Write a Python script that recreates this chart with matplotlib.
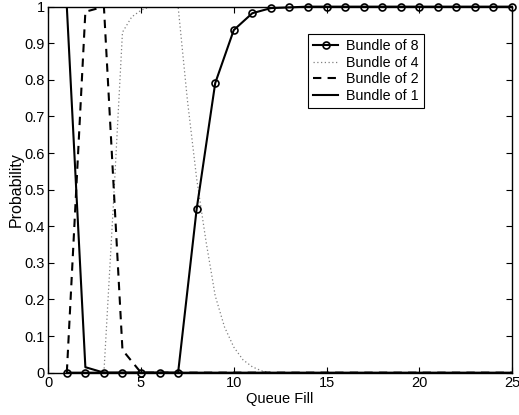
import matplotlib
matplotlib.use("Agg")
import matplotlib.pyplot as plt

plt.rcParams['font.family'] = ['Liberation Sans', 'DejaVu Sans']

# Bundle of 8 (integer queue fill)
x8 = list(range(1, 26))
y8 = [0, 0, 0, 0, 0, 0, 0, 0.447, 0.791, 0.936, 0.982, 0.996, 0.998] + [1.0] * 12

# Bundle of 4 (read at half steps)
x4 = [1, 2, 3, 3.5, 4, 4.5, 5, 5.5, 6, 6.5, 7, 7.5, 8, 8.5, 9, 9.5, 10, 10.5,
      11, 11.5, 12, 13, 15, 20, 25]
y4 = [0, 0, 0, 0.45, 0.93, 0.972, 0.99, 1.0, 1.0, 1.0, 1.0, 0.745, 0.53, 0.36,
      0.21, 0.125, 0.07, 0.035, 0.016, 0.005, 0.0, 0.0, 0.0, 0.0, 0.0]

# Bundle of 2
x2 = list(range(1, 26))
y2 = [0, 0.986, 1.0, 0.062] + [0.0] * 21

# Bundle of 1
x1 = list(range(1, 26))
y1 = [1.0, 0.015] + [0.0] * 23

xticks = [0, 5, 10, 15, 20, 25]
yticks = [0, 0.1, 0.2, 0.3, 0.4, 0.5, 0.6, 0.7, 0.8, 0.9, 1]
yticklabels = ['0', '0.1', '0.2', '0.3', '0.4', '0.5', '0.6', '0.7', '0.8', '0.9', '1']

fig = plt.figure(figsize=(5.19, 4.15), dpi=100)
ax = fig.add_axes([0.093, 0.102, 0.8935, 0.882])

ax.plot(x8, y8, color='black', lw=1.5, marker='o', ms=5, mfc='none', mew=1.2,
        label='Bundle of 8', clip_on=False, zorder=4)
ax.plot(x4, y4, color='#808080', lw=0.9, linestyle=(0, (1, 2)), label='Bundle of 4')
ax.plot(x2, y2, color='black', lw=1.5, linestyle=(0, (4, 3)), label='Bundle of 2')
ax.plot(x1, y1, color='black', lw=1.5, label='Bundle of 1')

ax.set_xlim(0, 25)
ax.set_ylim(0, 1)
ax.set_xticks(xticks)
ax.set_xticklabels([str(t) for t in xticks])
ax.set_yticks(yticks)
ax.set_yticklabels(yticklabels)
ax.tick_params(direction='in', top=True, right=True, labelsize=10.5, length=4,
               width=0.8, pad=2.5)
for s in ax.spines.values():
    s.set_linewidth(1.0)

ax.set_xlabel('Queue Fill', fontsize=10.5, labelpad=1)
ax.set_ylabel('Probability', fontsize=11.5, labelpad=0.5)

leg = ax.legend(loc='upper left', bbox_to_anchor=(0.561, 0.925), fontsize=10.3,
                frameon=True, fancybox=False, edgecolor='black', framealpha=1,
                borderpad=0.35, labelspacing=0.18, handlelength=1.7,
                handletextpad=0.6, borderaxespad=0)
leg.get_frame().set_linewidth(0.8)

fig.savefig('out.png', dpi=100)
